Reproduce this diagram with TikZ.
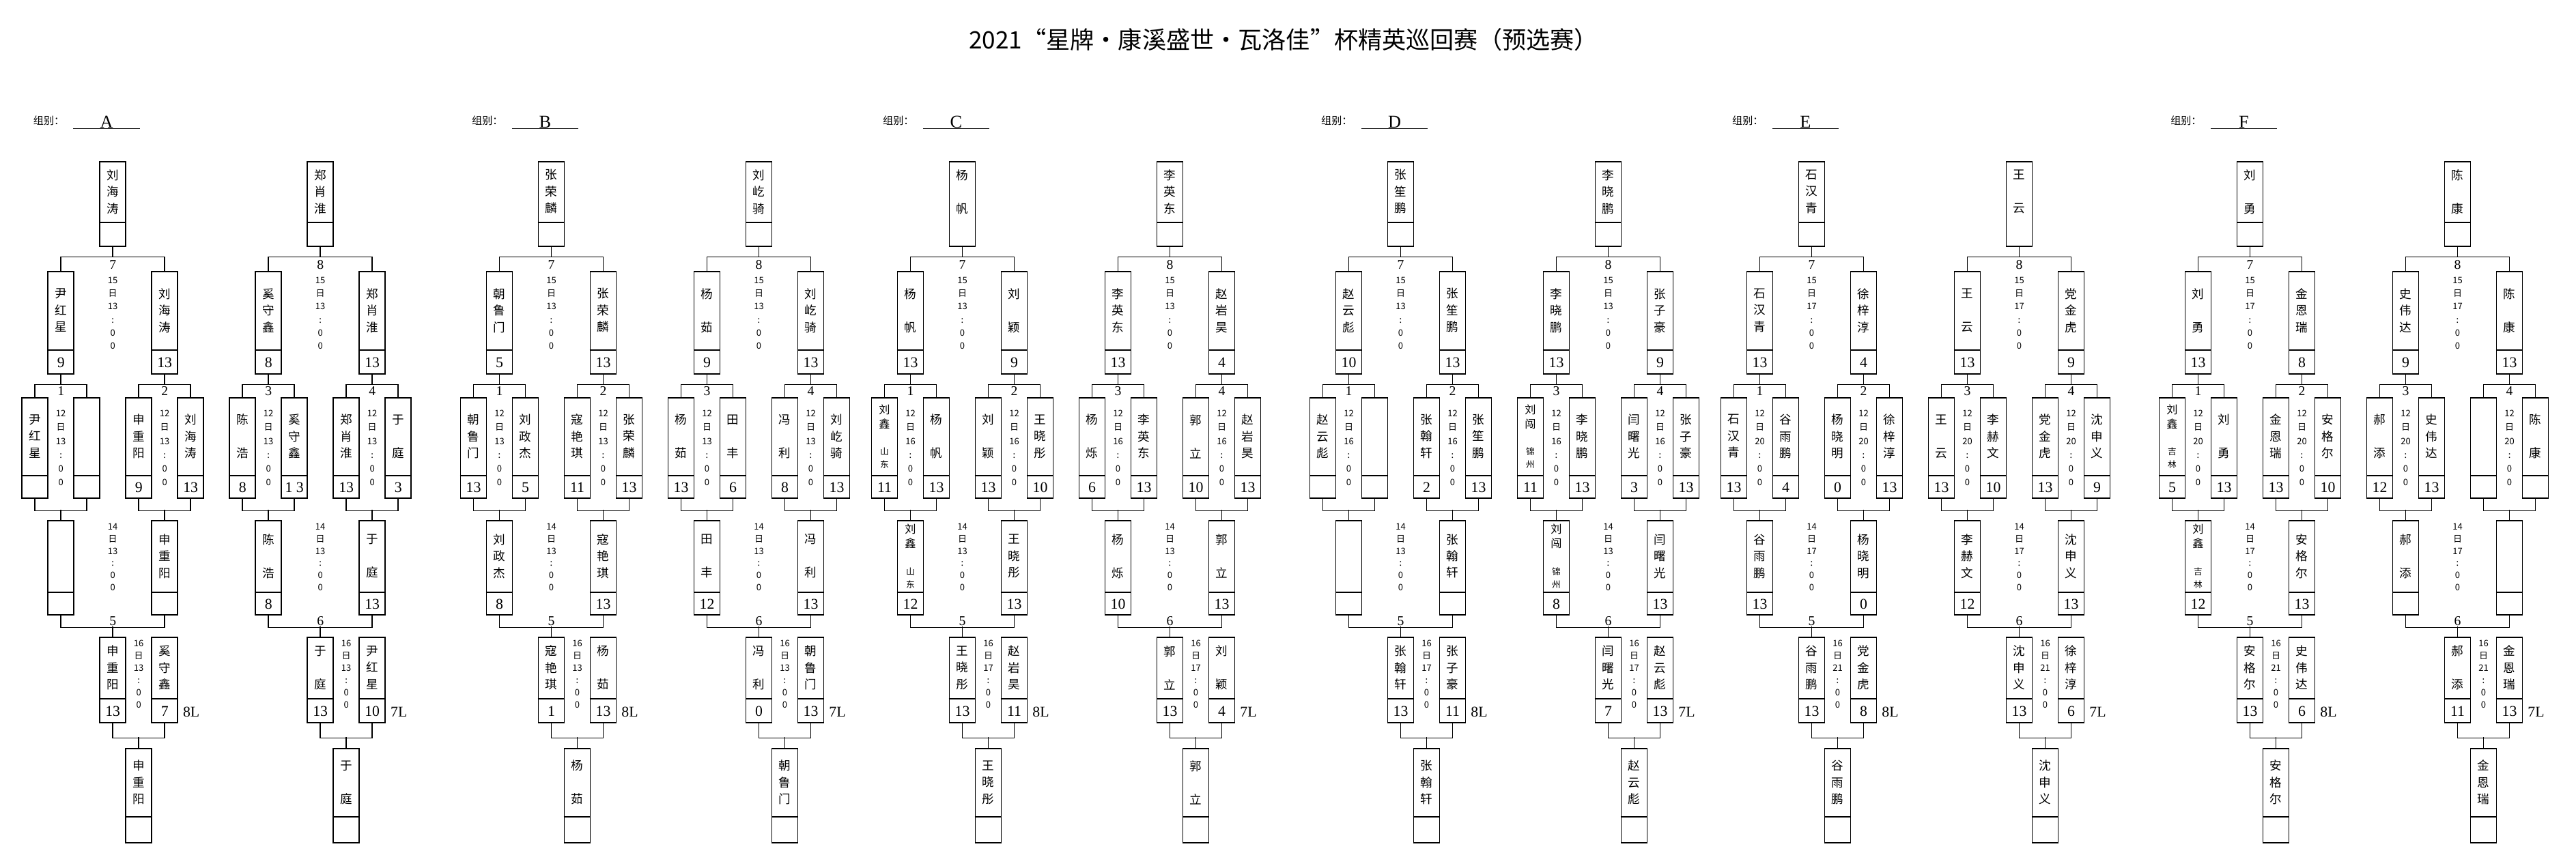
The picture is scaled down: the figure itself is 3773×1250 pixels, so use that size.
\documentclass[tikz,border=0pt]{standalone}
\usepackage{fontspec}
\setmainfont{Liberation Serif}
\newfontfamily\cjk{Noto Sans CJK SC}
\usepackage{tikz}
\usetikzlibrary{
  calc,
  positioning
}
\tikzset{
  slot/.style={draw, line width=0.45pt, minimum width=3.8mm, inner sep=0pt, anchor=north},
  link/.style={line width=0.45pt},
  nametext/.style={font=\cjk\fontsize{5}{6.97}\selectfont, align=center, inner sep=0pt},
  scoretext/.style={font=\fontsize{6.2}{7}\selectfont, inner sep=0pt},
  matchno/.style={font=\fontsize{5.6}{6}\selectfont, inner sep=0pt},
  timestack/.style={font=\cjk\fontsize{3.7}{#1}\selectfont, align=center, inner sep=0pt},
  headtext/.style={font=\cjk\fontsize{4.3}{5}\selectfont, inner sep=0pt},
  grouptag/.style={anchor=south, minimum width=9.6mm, inner sep=0pt, font=\fontsize{7.5}{8}\selectfont},
  titletext/.style={font=\cjk\fontsize{10}{12}\selectfont, inner sep=0pt}
}
% rows from top to bottom: top of box, name cell, score cell
\def\rowtop{{236,397,582,762,933,1096}}
\def\rowname{{90,116,115,106,91,101}}
\def\rowscore{{34,34,32,32,34,37}}
\newcommand\citynm[4]{{\fontsize{4.6}{6}\selectfont #1}\\[-0.35mm]{\fontsize{4.6}{6}\selectfont #2}\\[1.5mm]{\fontsize{3.6}{5}\selectfont #3}\\[-0.55mm]{\fontsize{3.6}{5}\selectfont #4}}
\newcommand\drawslot[4]{%
  \pgfmathsetmacro\st{\rowtop[#3]}%
  \pgfmathsetmacro\nh{\rowname[#3]}%
  \pgfmathsetmacro\sh{\rowscore[#3]}%
  \node[slot, minimum height={(\nh+\sh)*0.1mm}] (#1) at ({#2},\st) {};
  \coordinate (#1-n) at ($(#1.north)+(0,\nh/2)$);
  \coordinate (#1-s) at ($(#1.south)+(0,-\sh/2)$);
  \ifnum#4=1 \draw[link] (#1.north west) ++(0,\nh) -- ++(38,0);\fi
}
\newcommand\grouphead[2]{%
  \node[headtext, anchor=west] (#1-head) at ({#2-3},177) {组别：};
  \node[grouptag] (#1-tag) at ({#2+105},188.5) {#1};
  \draw[link] (#1-tag.south west) -- (#1-tag.south east);
}
\newcommand\drawhalf[8]{%
  \drawslot{#1t}{#2+114}{0}{#4}
  \foreach \k/\dx/\rw in {a/38/1,b/190/1,p/0/2,q/76/2,r/152/2,s/228/2,u/38/3,v/190/3,w/114/4,z/190/4,f/152/5}
    {\drawslot{#1\k}{#2+\dx}{\rw}{1}}
  \draw[link] (#1t.south) -- ++(0,15) -| (#1a.north) (#1t.south) ++(0,15) -| (#1b.north);
  \draw[link] (#1a.south) -- ++(0,15) -| (#1p.north) (#1a.south) ++(0,15) -| (#1q.north);
  \draw[link] (#1b.south) -- ++(0,15) -| (#1r.north) (#1b.south) ++(0,15) -| (#1s.north);
  \draw[link] (#1p.south) -- ++(0,18) -| (#1q.south) (#1u.north) -- ++(0,-15);
  \draw[link] (#1r.south) -- ++(0,18) -| (#1s.south) (#1v.north) -- ++(0,-15);
  \draw[link] (#1u.south) -- ++(0,18) -| (#1v.south) (#1w.north) -- ++(0,-15);
  \draw[link] (#1w.south) -- ++(0,22) -| (#1z.south) (#1f.north) -- ++(0,-16);
  \node[matchno] (#1m0) at ({#2+114},388) {\the\numexpr6+#3\relax};
  \node[matchno] (#1m1) at ({#2+38},573) {\the\numexpr2*#3-1\relax};
  \node[matchno] (#1m2) at ({#2+190},573) {\the\numexpr2*#3\relax};
  \node[matchno] (#1m3) at ({#2+114},910) {\the\numexpr4+#3\relax};
  \node[scoretext] (#1lose) at ({#2+229},1043) {\the\numexpr9-#3\relax L};
  \node[timestack=5.46pt] (#1d0) at ({#2+114},459) {15\\日\\#5\\:\\0\\0};
  \node[timestack=5.75pt] (#1d1) at ({#2+38},656.5) {12\\日\\#6\\:\\0\\0};
  \node[timestack=5.75pt] (#1d2) at ({#2+190},656.5) {12\\日\\#6\\:\\0\\0};
  \node[timestack=5.06pt] (#1d3) at ({#2+114},816.5) {14\\日\\#7\\:\\0\\0};
  \node[timestack=5.12pt] (#1d4) at ({#2+152},988) {16\\日\\#8\\:\\0\\0};
}
\newcommand\fillhalf[2]{%
  \foreach \k/\nm/\sc in {#2}{%
    \node[nametext] (#1\k-name) at (#1\k-n) {\nm};
    \node[scoretext] (#1\k-score) at (#1\k-s) {\sc};
  }
}

\begin{document}
\begin{tikzpicture}[x=0.1mm, y=-0.1mm]
  \useasboundingbox (0,0) rectangle (3773,1250);
  \node[titletext] (title) at (1880,58) {2021“星牌•康溪盛世•瓦洛佳”杯精英巡回赛（预选赛）};

  \grouphead{A}{51.2}
  \drawhalf{A1}{51.2}{1}{1}{13}{13}{13}{13}
  \fillhalf{A1}{t/刘\\海\\涛/, a/尹\\红\\星/9, b/刘\\海\\涛/13, p/尹\\红\\星/, q//, r/申\\重\\阳/9, s/刘\\海\\涛/13, u//, v/申\\重\\阳/, w/申\\重\\阳/13, z/奚\\守\\鑫/7, f/申\\重\\阳/}
  \drawhalf{A2}{355.2}{2}{1}{13}{13}{13}{13}
  \fillhalf{A2}{t/郑\\肖\\淮/, a/奚\\守\\鑫/8, b/郑\\肖\\淮/13, p/陈\\　\\浩/8, q/奚\\守\\鑫/1 3, r/郑\\肖\\淮/13, s/于\\　\\庭/3, u/陈\\　\\浩/8, v/于\\　\\庭/13, w/于\\　\\庭/13, z/尹\\红\\星/10, f/于\\　\\庭/}

  \grouphead{B}{693.5}
  \drawhalf{B1}{693.5}{1}{1}{13}{13}{13}{13}
  \fillhalf{B1}{t/张\\荣\\麟/, a/朝\\鲁\\门/5, b/张\\荣\\麟/13, p/朝\\鲁\\门/13, q/刘\\政\\杰/5, r/寇\\艳\\琪/11, s/张\\荣\\麟/13, u/刘\\政\\杰/8, v/寇\\艳\\琪/13, w/寇\\艳\\琪/1, z/杨\\　\\茹/13, f/杨\\　\\茹/}
  \drawhalf{B2}{997.5}{2}{1}{13}{13}{13}{13}
  \fillhalf{B2}{t/刘\\屹\\骑/, a/杨\\　\\茹/9, b/刘\\屹\\骑/13, p/杨\\　\\茹/13, q/田\\　\\丰/6, r/冯\\　\\利/8, s/刘\\屹\\骑/13, u/田\\　\\丰/12, v/冯\\　\\利/13, w/冯\\　\\利/0, z/朝\\鲁\\门/13, f/朝\\鲁\\门/}

  \grouphead{C}{1295.5}
  \drawhalf{C1}{1295.5}{1}{0}{13}{16}{13}{17}
  \fillhalf{C1}{t/杨\\　\\帆/, a/杨\\　\\帆/13, b/刘\\　\\颖/9, p/\citynm{刘}{鑫}{山}{东}/11, q/杨\\　\\帆/13, r/刘\\　\\颖/13, s/王\\晓\\彤/10, u/\citynm{刘}{鑫}{山}{东}/12, v/王\\晓\\彤/13, w/王\\晓\\彤/13, z/赵\\岩\\昊/11, f/王\\晓\\彤/}
  \drawhalf{C2}{1599.5}{2}{1}{13}{16}{13}{17}
  \fillhalf{C2}{t/李\\英\\东/, a/李\\英\\东/13, b/赵\\岩\\昊/4, p/杨\\　\\烁/6, q/李\\英\\东/13, r/郭\\　\\立/10, s/赵\\岩\\昊/13, u/杨\\　\\烁/10, v/郭\\　\\立/13, w/郭\\　\\立/13, z/刘\\　\\颖/4, f/郭\\　\\立/}

  \grouphead{D}{1937.5}
  \drawhalf{D1}{1937.5}{1}{1}{13}{16}{13}{17}
  \fillhalf{D1}{t/张\\笙\\鹏/, a/赵\\云\\彪/10, b/张\\笙\\鹏/13, p/赵\\云\\彪/, q//, r/张\\翰\\轩/2, s/张\\笙\\鹏/13, u//, v/张\\翰\\轩/, w/张\\翰\\轩/13, z/张\\子\\豪/11, f/张\\翰\\轩/}
  \drawhalf{D2}{2241.5}{2}{1}{13}{16}{13}{17}
  \fillhalf{D2}{t/李\\晓\\鹏/, a/李\\晓\\鹏/13, b/张\\子\\豪/9, p/\citynm{刘}{闯}{锦}{州}/11, q/李\\晓\\鹏/13, r/闫\\曙\\光/3, s/张\\子\\豪/13, u/\citynm{刘}{闯}{锦}{州}/8, v/闫\\曙\\光/13, w/闫\\曙\\光/7, z/赵\\云\\彪/13, f/赵\\云\\彪/}

  \grouphead{E}{2539.5}
  \drawhalf{E1}{2539.5}{1}{1}{17}{20}{17}{21}
  \fillhalf{E1}{t/石\\汉\\青/, a/石\\汉\\青/13, b/徐\\梓\\淳/4, p/石\\汉\\青/13, q/谷\\雨\\鹏/4, r/杨\\晓\\明/0, s/徐\\梓\\淳/13, u/谷\\雨\\鹏/13, v/杨\\晓\\明/0, w/谷\\雨\\鹏/13, z/党\\金\\虎/8, f/谷\\雨\\鹏/}
  \drawhalf{E2}{2843.5}{2}{0}{17}{20}{17}{21}
  \fillhalf{E2}{t/王\\　\\云/, a/王\\　\\云/13, b/党\\金\\虎/9, p/王\\　\\云/13, q/李\\赫\\文/10, r/党\\金\\虎/13, s/沈\\申\\义/9, u/李\\赫\\文/12, v/沈\\申\\义/13, w/沈\\申\\义/13, z/徐\\梓\\淳/6, f/沈\\申\\义/}

  \grouphead{F}{3181.5}
  \drawhalf{F1}{3181.5}{1}{1}{17}{20}{17}{21}
  \fillhalf{F1}{t/刘\\　\\勇/, a/刘\\　\\勇/13, b/金\\恩\\瑞/8, p/\citynm{刘}{鑫}{吉}{林}/5, q/刘\\　\\勇/13, r/金\\恩\\瑞/13, s/安\\格\\尔/10, u/\citynm{刘}{鑫}{吉}{林}/12, v/安\\格\\尔/13, w/安\\格\\尔/13, z/史\\伟\\达/6, f/安\\格\\尔/}
  \drawhalf{F2}{3485.5}{2}{1}{17}{20}{17}{21}
  \fillhalf{F2}{t/陈\\　\\康/, a/史\\伟\\达/9, b/陈\\　\\康/13, p/郝\\　\\添/12, q/史\\伟\\达/13, r//, s/陈\\　\\康/, u/郝\\　\\添/, v//, w/郝\\　\\添/11, z/金\\恩\\瑞/13, f/金\\恩\\瑞/}
\end{tikzpicture}
\end{document}
